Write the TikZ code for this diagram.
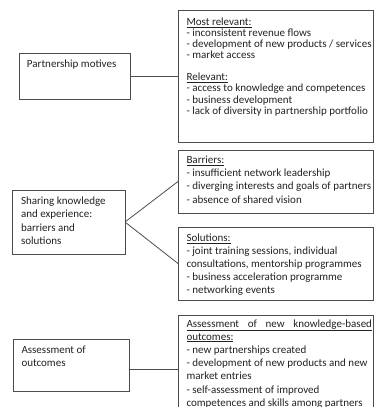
\documentclass[tikz,border=0pt]{standalone}
\usepackage{fontspec}
\setmainfont{Carlito}
\definecolor{linegray}{gray}{0.3}
\definecolor{textcol}{gray}{0.13}
\newcommand\linesat[2]{\vtop{\baselineskip=#1\lineskiplimit=-1000pt\relax #2}}
\begin{document}
\begin{tikzpicture}[x=1pt,y=-1pt,
  box/.style={draw=linegray, line width=0.8pt, inner sep=0pt, outer sep=0pt, anchor=north west},
  txt/.style={anchor=base west, inner sep=0pt, outer sep=0pt, text=textcol, font=\fontsize{11}{13.3}\selectfont},
  link/.style={draw=linegray, line width=0.8pt}]
\useasboundingbox (0,0) rectangle (374,407);
% boxes
\node[box, minimum width=111pt, minimum height=46pt] (L1) at (19,53) {};
\node[box, minimum width=112.5pt, minimum height=64pt] (L2) at (12.5,190) {};
\node[box, minimum width=116pt, minimum height=52pt] (L3) at (13,339) {};
\node[box, minimum width=195.5pt, minimum height=132pt] (R1) at (178,10) {};
\node[box, minimum width=195.5pt, minimum height=63pt] (R2) at (178,150) {};
\node[box, minimum width=195.5pt, minimum height=73pt] (R3) at (178,227) {};
\node[box, minimum width=195.5pt, minimum height=110pt] (R4) at (178,315) {};
% connectors
\draw[link] (L1.east) -- (L1.east -| R1.west);
\draw[link] (L2.east) -- (R2.west);
\draw[link] (L2.east) -- (R3.west);
\coordinate (c3) at ([yshift=-4pt]L3.east);
\draw[link] (c3) -- (c3 -| R4.west);
% texts
\node[txt] (tL1) at (27,67.6) {Partnership motives};
\node[txt] (tL2) at (21,204.3) {\linesat{13.5pt}{%
  \hbox{Sharing knowledge}\hbox{and experience:}\hbox{barriers and}\hbox{solutions}}};
\node[txt] (tL3) at (21.5,353.6) {\linesat{13.2pt}{%
  \hbox{Assessment of}\hbox{outcomes}}};
\node[txt] (tR1) at (186.5,25.3) {\linesat{11.1pt}{%
  \hbox{\underline{Most relevant:}}
  \hbox{- inconsistent revenue flows}
  \hbox{- development of new products / services}
  \hbox{- market access}
  \hbox{}
  \hbox{\underline{Relevant:}}
  \hbox{- access to knowledge and competences}
  \hbox{- business development}
  \hbox{- lack of diversity in partnership portfolio}}};
\node[txt] (tR2) at (186.5,163.3) {\linesat{13.3pt}{%
  \hbox{\underline{Barriers:}}
  \hbox{- insufficient network leadership}
  \hbox{- diverging interests and goals of partners}
  \hbox{- absence of shared vision}}};
\node[txt] (tR3) at (186.5,241.6) {\linesat{13pt}{%
  \hbox{\underline{Solutions:}}
  \hbox{- joint training sessions, individual}
  \hbox{consultations, mentorship programmes}
  \hbox{- business acceleration programme}
  \hbox{- networking events}}};
\node[txt] (tR4) at (186.5,327) {\linesat{13.2pt}{%
  \hbox{\underline{\makebox[185.5pt][s]{Assessment of new knowledge-based}}}
  \hbox{\underline{outcomes:}}
  \hbox{- new partnerships created}
  \hbox{- development of new products and new}
  \hbox{market entries}
  \hbox{- self-assessment of improved}
  \hbox{competences and skills among partners}}};
\end{tikzpicture}
\end{document}
